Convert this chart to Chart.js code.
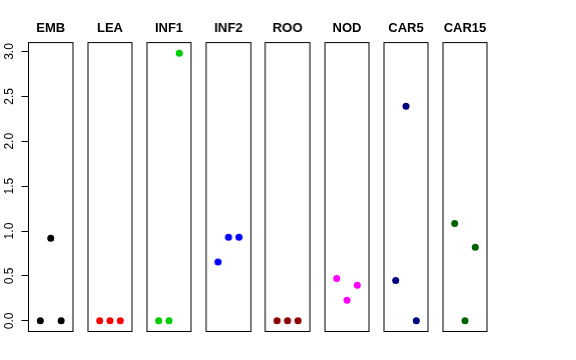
<!DOCTYPE html>
<html>
<head>
<meta charset="utf-8">
<script src="https://cdn.jsdelivr.net/npm/chart.js@4/dist/chart.umd.min.js"></script>
<style>
  html, body { margin: 0; padding: 0; background: #fff; }
  #wrap { position: relative; width: 576px; height: 360px; overflow: hidden; }
  #wrap canvas { position: absolute; top: 0; }
</style>
</head>
<body>
<div id="wrap"></div>
<script>
// Panel names and point colours
const PANELS = ['EMB', 'LEA', 'INF1', 'INF2', 'ROO', 'NOD', 'CAR5', 'CAR15'];
const COLORS = ['#000000', '#ff0000', '#00cd00', '#0000ff', '#8b0000', '#ff00ff', '#000080', '#006400'];

// Three replicate values per panel
const EMB   = [0, 0.92, 0];
const LEA   = [0, 0, 0];
const INF1  = [0, 0, 2.98];
const INF2  = [0.656, 0.932, 0.932];
const ROO   = [0, 0, 0];
const NOD   = [0.471, 0.229, 0.396];
const CAR5  = [0.449, 2.39, 0];
const CAR15 = [1.085, 0, 0.82];
const VALUES = [EMB, LEA, INF1, INF2, ROO, NOD, CAR5, CAR15];

const Y_TICKS = [0, 0.5, 1, 1.5, 2, 2.5, 3];

// ── Layout ─────────────────────────────────────────────────────────────────
const BOX_LEFT  = 28.5;
const BOX_PITCH = 59.2;
const BOX_W     = 44.5;
const AXIS_W    = 28.5;
const PAD       = 7;

const frame = {
  id: 'frame',
  afterDatasetsDraw(chart) {
    const a = chart.chartArea;
    const c = chart.ctx;
    c.save();
    c.strokeStyle = '#000';
    c.lineWidth = 1;
    c.strokeRect(a.left, a.top, a.right - a.left, a.bottom - a.top);
    c.restore();
  }
};

const wrap = document.getElementById('wrap');

PANELS.forEach((name, i) => {
  const first = i === 0;
  const boxLeft = BOX_LEFT + i * BOX_PITCH;
  const left  = first ? 0 : boxLeft - PAD;
  const width = first ? AXIS_W + BOX_W + PAD : BOX_W + 2 * PAD;

  const canvas = document.createElement('canvas');
  canvas.style.left = left + 'px';
  canvas.style.width = width + 'px';
  canvas.style.height = '360px';
  canvas.width = width;
  canvas.height = 360;
  wrap.appendChild(canvas);

  new Chart(canvas.getContext('2d'), {
    type: 'scatter',
    data: {
      datasets: [{
        data: VALUES[i].map((v, k) => ({ x: k + 1, y: v })),
        backgroundColor: COLORS[i],
        borderWidth: 0,
        pointRadius: 3.5
      }]
    },
    options: {
      responsive: false,
      animation: false,
      layout: { padding: { left: first ? 0 : PAD, right: PAD, top: 0, bottom: 28.5 } },
      plugins: {
        legend: { display: false },
        tooltip: { enabled: false },
        title: {
          display: true,
          text: name,
          fullSize: false,
          color: '#000',
          font: { family: 'Liberation Sans', size: 13, weight: 'bold', lineHeight: 1.2 },
          padding: { top: 21, bottom: 6 }
        }
      },
      scales: {
        x: {
          type: 'linear',
          display: false,
          min: -0.135,
          max: 4.135
        },
        y: {
          type: 'linear',
          display: first,
          min: -0.1192,
          max: 3.0992,
          afterFit: s => { s.width = first ? AXIS_W : 0; },
          afterBuildTicks: s => { s.ticks = Y_TICKS.map(v => ({ value: v })); },
          border: { display: false },
          grid: { drawOnChartArea: false, tickLength: 7, color: '#000' },
          ticks: {
            color: '#000',
            minRotation: 90,
            maxRotation: 90,
            crossAlign: 'center',
            padding: 3,
            font: { family: 'Liberation Sans', size: 12 },
            callback: v => v.toFixed(1)
          }
        }
      }
    },
    plugins: [frame]
  });
});
</script>
</body>
</html>
